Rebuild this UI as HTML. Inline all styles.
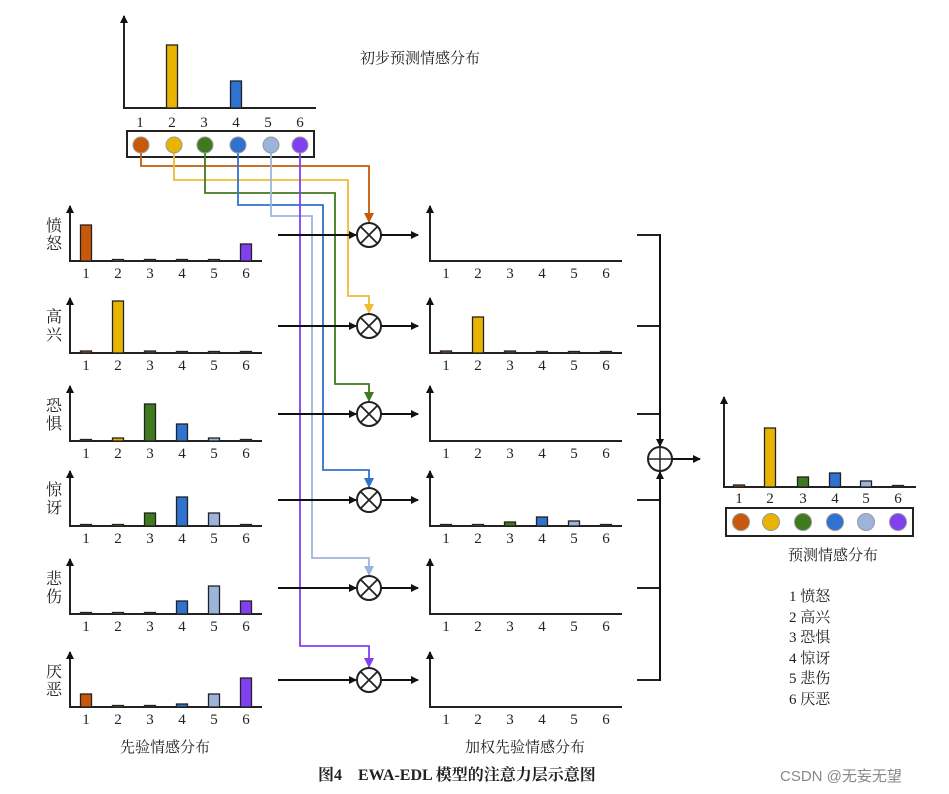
<!DOCTYPE html>
<html><head><meta charset="utf-8"><style>
html,body{margin:0;padding:0;background:#fff;}
svg{display:block;}
text{font-family:"Liberation Serif","Noto Serif CJK SC",serif;fill:#222;}
.cj{font-family:"Liberation Serif","Noto Serif CJK SC","Noto Sans CJK SC",serif;}
</style></head><body>
<svg id="s" width="949" height="794" viewBox="0 0 949 794" xmlns="http://www.w3.org/2000/svg">
<defs>
<marker id="a" markerWidth="8" markerHeight="8" refX="7" refY="4" orient="auto" markerUnits="userSpaceOnUse"><path d="M0,0 L8,4 L0,8 Z" fill="#111"/></marker>
<marker id="ao" markerWidth="10" markerHeight="10" refX="5" refY="9" orient="0" markerUnits="userSpaceOnUse"><path d="M0,0 L10,0 L5,10 Z" fill="#c8590a"/></marker>
<marker id="ay" markerWidth="10" markerHeight="10" refX="5" refY="9" orient="0" markerUnits="userSpaceOnUse"><path d="M0,0 L10,0 L5,10 Z" fill="#f0bc30"/></marker>
<marker id="ag" markerWidth="10" markerHeight="10" refX="5" refY="9" orient="0" markerUnits="userSpaceOnUse"><path d="M0,0 L10,0 L5,10 Z" fill="#3f7a1e"/></marker>
<marker id="ab" markerWidth="10" markerHeight="10" refX="5" refY="9" orient="0" markerUnits="userSpaceOnUse"><path d="M0,0 L10,0 L5,10 Z" fill="#2f72d0"/></marker>
<marker id="al" markerWidth="10" markerHeight="10" refX="5" refY="9" orient="0" markerUnits="userSpaceOnUse"><path d="M0,0 L10,0 L5,10 Z" fill="#9cb4dc"/></marker>
<marker id="ap" markerWidth="10" markerHeight="10" refX="5" refY="9" orient="0" markerUnits="userSpaceOnUse"><path d="M0,0 L10,0 L5,10 Z" fill="#8040f0"/></marker>
</defs>
<g id="g"></g>
<text x="420" y="63" font-size="15" text-anchor="middle" class="cj">初步预测情感分布</text>
<text x="54" y="231" font-size="16" text-anchor="middle" class="cj">愤</text><text x="54" y="249" font-size="16" text-anchor="middle" class="cj">怒</text>
<text x="54" y="322" font-size="16" text-anchor="middle" class="cj">高</text><text x="54" y="340" font-size="16" text-anchor="middle" class="cj">兴</text>
<text x="54" y="411" font-size="16" text-anchor="middle" class="cj">恐</text><text x="54" y="429" font-size="16" text-anchor="middle" class="cj">惧</text>
<text x="54" y="495" font-size="16" text-anchor="middle" class="cj">惊</text><text x="54" y="513" font-size="16" text-anchor="middle" class="cj">讶</text>
<text x="54" y="584" font-size="16" text-anchor="middle" class="cj">悲</text><text x="54" y="602" font-size="16" text-anchor="middle" class="cj">伤</text>
<text x="54" y="677" font-size="16" text-anchor="middle" class="cj">厌</text><text x="54" y="695" font-size="16" text-anchor="middle" class="cj">恶</text>
<text x="165" y="752" font-size="15" text-anchor="middle" class="cj">先验情感分布</text>
<text x="525" y="752" font-size="15" text-anchor="middle" class="cj">加权先验情感分布</text>
<text x="833" y="560" font-size="15" text-anchor="middle" class="cj">预测情感分布</text>
<text x="789" y="601" font-size="15" class="cj">1 愤怒</text>
<text x="789" y="622" font-size="15" class="cj">2 高兴</text>
<text x="789" y="642" font-size="15" class="cj">3 恐惧</text>
<text x="789" y="663" font-size="15" class="cj">4 惊讶</text>
<text x="789" y="683" font-size="15" class="cj">5 悲伤</text>
<text x="789" y="704" font-size="15" class="cj">6 厌恶</text>
<text x="318" y="780" font-size="16" font-weight="bold" class="cj">图4　EWA-EDL 模型的注意力层示意图</text>
<text x="780" y="781" font-size="15" style="font-family:'Liberation Sans','Noto Sans CJK SC',sans-serif;fill:#888">CSDN @无妄无望</text>
</svg>
<script>
var g=document.getElementById('g'),h='';
var C=['#c8590a','#e8b400','#3f7a1e','#2f72d0','#9cb4dc','#8040f0'];
function L(x1,y1,x2,y2,st,w,m){h+='<line x1="'+x1+'" y1="'+y1+'" x2="'+x2+'" y2="'+y2+'" stroke="'+(st||'#222')+'" stroke-width="'+(w||2)+'"'+(m?' marker-end="url(#'+m+')"':'')+'/>';}
function chart(ax,base,top,len,centers,vals,labY){
 L(ax,base,ax,top+1,'#222',2,'a');L(ax-1,base,ax+len,base);
 for(var i=0;i<6;i++){var v=vals[i];if(v>0){h+='<rect x="'+(centers[i]-5.5)+'" y="'+(base-v)+'" width="11" height="'+v+'" fill="'+C[i]+'" stroke="#222" stroke-width="1.3"/>';}
 h+='<text x="'+centers[i]+'" y="'+labY+'" font-size="15" text-anchor="middle">'+(i+1)+'</text>';}
}
var lc=[86,118,150,182,214,246],mc=[446,478,510,542,574,606];
var bases=[261,353,441,526,614,707];
var lv=[[36,1.5,1.5,1.5,1.5,17],[2,52,2,1.5,1.5,1.5],[1.5,3,37,17,3,1.5],[1.5,1.5,13,29,13,1.5],[1.5,1.5,1.5,13,28,13],[13,1.5,1.5,3,13,29]];
var mv=[[0,0,0,0,0,0],[2,36,2,1.5,1.5,1.5],[0,0,0,0,0,0],[1.5,1.5,4,9,5,1.5],[0,0,0,0,0,0],[0,0,0,0,0,0]];
var my=[235,326,414,500,588,680];
for(var r=0;r<6;r++){
 chart(70,bases[r],bases[r]-56,192,lc,lv[r],bases[r]+17);
 chart(430,bases[r],bases[r]-56,192,mc,mv[r],bases[r]+17);
}
// top chart
chart(124,108,15,192,[140,172,204,236,268,300],[0,63,0,27,0,0],127);
chart(724,487,396,192,[739,770,803,835,866,898],[2,59,10,14,6,1.5],503);
// boxes
h+='<rect x="127" y="131" width="187" height="26" fill="none" stroke="#222" stroke-width="2"/>';
h+='<rect x="726" y="508" width="187" height="28" fill="none" stroke="#222" stroke-width="2"/>';
// connectors
var cx=[141,174,205,238,271,300],hy=[166,180,193,205,216,null],vx=[369,348,335,323,312,300],mk=['ao','ay','ag','ab','al','ap'];
var CL=['#c8590a','#f0bc30','#3f7a1e','#2f72d0','#9cb4dc','#8040f0'];
for(var i=0;i<6;i++){
 var d;
 if(i==0)d='M141,153 V166 H369 V222';
 else if(i<5)d='M'+cx[i]+',153 V'+hy[i]+' H'+vx[i]+' V'+(my[i]-30)+' H369 V'+(my[i]-13);
 else d='M300,153 V'+(my[5]-34)+' H369 V'+(my[5]-13);
 h+='<path d="'+d+'" fill="none" stroke="'+CL[i]+'" stroke-width="1.8" marker-end="url(#'+mk[i]+')"/>';
}
for(var i=0;i<6;i++){h+='<circle cx="'+cx[i]+'" cy="145" r="8" fill="'+C[i]+'" stroke="#999" stroke-width="1"/>';}
var rc=[741,771,803,835,866,898];
for(var i=0;i<6;i++){h+='<circle cx="'+rc[i]+'" cy="522" r="8.5" fill="'+C[i]+'" stroke="#999" stroke-width="1"/>';}
// multipliers
for(var r=0;r<6;r++){var y=my[r];
 L(278,y,356,y,'#111',2,'a');
 h+='<circle cx="369" cy="'+y+'" r="12" fill="#fff" stroke="#222" stroke-width="2"/>';
 L(360.5,y-8.5,377.5,y+8.5,'#222',1.8);L(377.5,y-8.5,360.5,y+8.5,'#222',1.8);
 L(381,y,418,y,'#111',2,'a');
 L(637,y,660,y,'#222',2);
}
L(660,234,660,446,'#111',2,'a');L(660,681,660,472,'#111',2,'a');
h+='<circle cx="660" cy="459" r="12" fill="#fff" stroke="#222" stroke-width="2"/>';
L(648,459,672,459,'#222',1.5);L(660,447,660,471,'#222',1.5);
L(672,459,700,459,'#111',2,'a');
g.innerHTML=h;
</script>
</body></html>
